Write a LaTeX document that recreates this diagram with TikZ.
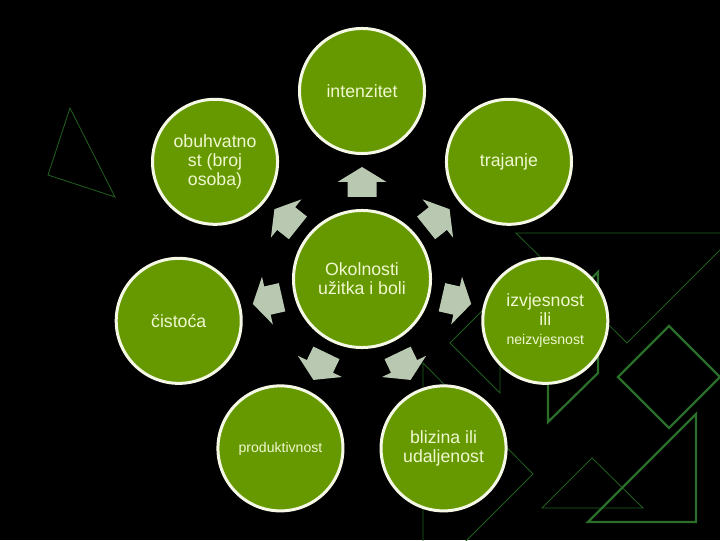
\documentclass[tikz,border=0pt]{standalone}
\usepackage{fontspec}
\setmainfont{Liberation Sans}
\usetikzlibrary{calc}
\definecolor{olive}{HTML}{669900}
\definecolor{rim}{HTML}{F4F8E4}
\definecolor{txt}{HTML}{F0F8D0}
\definecolor{arr}{HTML}{B9C8B1}
\definecolor{thinline}{HTML}{1F5E1F}
\definecolor{thickline}{HTML}{2A6E2A}
\begin{document}
\begin{tikzpicture}[x=0.025cm,y=0.025cm,
  bubble/.style={circle, draw=rim, line width=0.075cm, fill=olive, text=txt,
    minimum size=3.125cm, inner sep=0pt, align=center,
    font=\fontsize{12.6}{13.4}\selectfont},
  hub/.style={bubble, minimum size=3.425cm},
  smalltext/.style={font=\fontsize{10}{12}\selectfont},
  bgthin/.style={draw=thinline, line width=0.6pt},
  bgthick/.style={draw=thickline, line width=1.6pt},
  pointer/.style={fill=arr}]

\fill[black] (0,0) rectangle (720,540);
\useasboundingbox (0,0) rectangle (720,540);
\clip (0,0) rectangle (720,540);

% background outline shapes
\draw[bgthin] (70,432) -- (48,365) -- (115,343) -- cycle;
\draw[bgthin] (516,307) -- (737,307) -- (627,197) -- cycle;
\draw[bgthin] (450,197) -- (500,247) -- (500,147) -- cycle;
\draw[bgthin] (423,177) -- (533,66) -- (423,-44) -- cycle;
\draw[bgthin] (592,82) -- (542,32) -- (643,32) -- cycle;
\draw[bgthick] (598,268) -- (598,167) -- (548,118) -- (548,218) -- cycle;
\draw[bgthick] (669,214) -- (618,163) -- (669,112) -- (720,163) -- cycle;
\draw[bgthick] (696,126) -- (696,18) -- (588,18) -- cycle;

% nodes
\coordinate (c) at (362,261);
\node[hub] (hub) at (c) {Okolnosti\\užitka i boli};
\node[bubble] (int) at ($(c)+(90:188)$) {intenzitet};
\node[bubble] (tra) at ($(c)+(38.57:188)$) {trajanje};
\node[bubble] (izv) at ($(c)+(-12.86:188)$) {izvjesnost\\ili\\{\fontsize{10}{12}\selectfont neizvjesnost}};
\node[bubble] (bli) at ($(c)+(-64.29:188)$) {blizina ili\\udaljenost};
\node[bubble, smalltext] (pro) at ($(c)+(-115.71:188)$) {produktivnost};
\node[bubble] (cis) at ($(c)+(-167.14:188)$) {čistoća};
\node[bubble] (obu) at ($(c)+(141.43:188)$) {obuhvatno\\st (broj\\osoba)};

% block arrows from hub toward each bubble
\foreach \n/\a in {int/90, tra/38.57, izv/-12.86, bli/-64.29, pro/-115.71, cis/-167.14, obu/141.43}{
  \fill[pointer, shift={($(hub)!0.516!(\n)$)}, rotate=\a]
    (-15,-14.5) -- (0,-14.5) -- (0,-24.5) -- (15,0) -- (0,24.5) -- (0,14.5) -- (-15,14.5) -- cycle;
}
\end{tikzpicture}
\end{document}
